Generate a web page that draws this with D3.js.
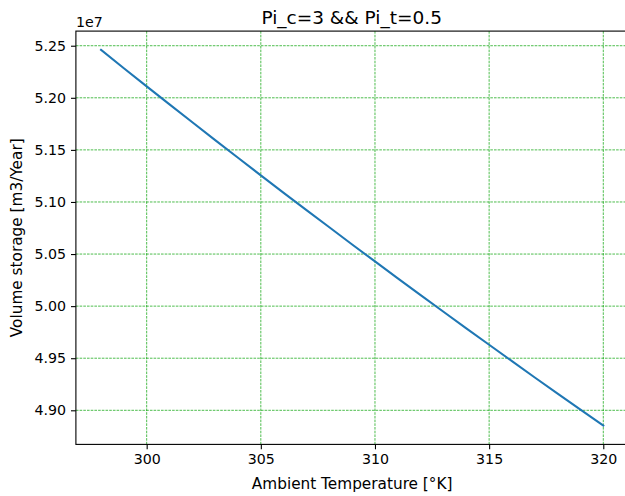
<!DOCTYPE html>
<html>
<head>
<meta charset="utf-8">
<script src="https://cdn.jsdelivr.net/npm/d3@7"></script>
<style>
  html, body { margin: 0; padding: 0; background: #fff; }
  svg { display: block; font-family: "DejaVu Sans", sans-serif; }
</style>
</head>
<body>
<svg id="chart" width="625" height="496"></svg>
<script>
// Ambient temperature [K] and storage volume (in units of 1e7 m3/year)
const temperature = [298, 299, 300, 301, 302, 303, 304, 305, 306, 307, 308, 309,
                     310, 311, 312, 313, 314, 315, 316, 317, 318, 319, 320];
const volume = [5.2460, 5.2284, 5.2110, 5.1937, 5.1765, 5.1594, 5.1424, 5.1256,
                5.1088, 5.0922, 5.0757, 5.0592, 5.0429, 5.0267, 5.0106, 4.9946,
                4.9787, 4.9629, 4.9472, 4.9315, 4.9160, 4.9006, 4.8853];
const xTicks = [300, 305, 310, 315, 320];
const yTicks = [4.90, 4.95, 5.00, 5.05, 5.10, 5.15, 5.20, 5.25];

const titleText = "Pi_c=3 && Pi_t=0.5";
const xLabel = "Ambient Temperature [°K]";
const yLabel = "Volume storage [m3/Year]";
const offsetText = "1e7";

const svg = d3.select("#chart");
const plot = { left: 75.9, right: 628.4, top: 31.1, bottom: 444.4 };

// 5% padding on each side of the data range
function padded(values) {
  const [lo, hi] = d3.extent(values);
  const m = (hi - lo) * 0.05;
  return [lo - m, hi + m];
}

const x = d3.scaleLinear().domain(padded(temperature)).range([plot.left, plot.right]);
const y = d3.scaleLinear().domain(padded(volume)).range([plot.bottom, plot.top]);

const data = temperature.map((t, i) => ({ t, v: volume[i] }));

// grid
const grid = svg.append("g")
  .attr("stroke", "#00a000")
  .attr("stroke-width", 0.7)
  .attr("stroke-dasharray", "2.6,1.1")
  .attr("fill", "none");
grid.selectAll(".gx").data(xTicks).join("line")
  .attr("x1", d => x(d)).attr("x2", d => x(d))
  .attr("y1", plot.top).attr("y2", plot.bottom);
grid.selectAll(".gy").data(yTicks).join("line")
  .attr("y1", d => y(d)).attr("y2", d => y(d))
  .attr("x1", plot.left).attr("x2", plot.right);

// series
svg.append("path")
  .datum(data)
  .attr("fill", "none")
  .attr("stroke", "#1f77b4")
  .attr("stroke-width", 2.08)
  .attr("stroke-linecap", "square")
  .attr("d", d3.line().x(d => x(d.t)).y(d => y(d.v)));

// axes
const xAxis = d3.axisBottom(x).tickValues(xTicks).tickSize(4.9).tickPadding(4.9).tickSizeOuter(0)
  .tickFormat(d3.format("d"));
const yAxis = d3.axisLeft(y).tickValues(yTicks).tickSize(4.9).tickPadding(4.9).tickSizeOuter(0)
  .tickFormat(d3.format(".2f"));

const gx = svg.append("g").attr("transform", `translate(0,${plot.bottom})`).call(xAxis);
const gy = svg.append("g").attr("transform", `translate(${plot.left},0)`).call(yAxis);
[gx, gy].forEach(g => {
  g.select(".domain").remove();
  g.selectAll(".tick line").attr("stroke", "#000").attr("stroke-width", 1.1);
  g.selectAll(".tick text").attr("fill", "#000").style("font-size", "14.2px")
    .style("font-family", "DejaVu Sans, sans-serif");
});

// spines
svg.append("rect")
  .attr("x", plot.left).attr("y", plot.top)
  .attr("width", plot.right - plot.left).attr("height", plot.bottom - plot.top)
  .attr("fill", "none").attr("stroke", "#000").attr("stroke-width", 1.1);

// texts
svg.append("text")
  .attr("x", (plot.left + plot.right) / 2 - 0.5).attr("y", 23.5)
  .attr("text-anchor", "middle").style("font-size", "18.5px")
  .text(titleText);

svg.append("text")
  .attr("x", plot.left).attr("y", 26.5)
  .style("font-size", "14.2px")
  .text(offsetText);

svg.append("text")
  .attr("x", (plot.left + plot.right) / 2).attr("y", 488.5)
  .attr("text-anchor", "middle").style("font-size", "15.3px")
  .text(xLabel);

svg.append("text")
  .attr("transform", `translate(21.5,${(plot.top + plot.bottom) / 2}) rotate(-90)`)
  .attr("text-anchor", "middle").style("font-size", "15.3px")
  .text(yLabel);
</script>
</body>
</html>
